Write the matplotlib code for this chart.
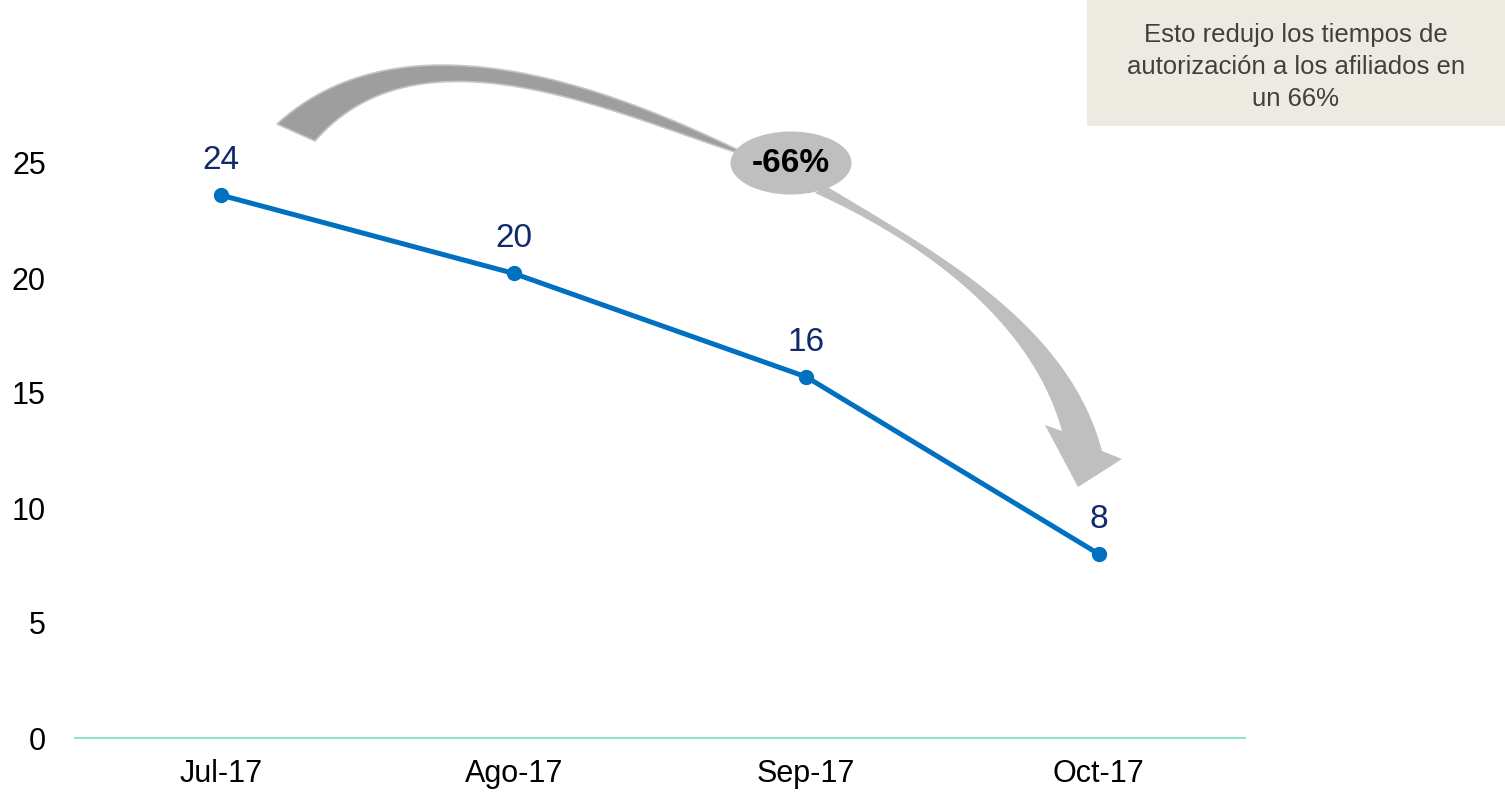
import matplotlib
matplotlib.use("Agg")
import numpy as np
import matplotlib.pyplot as plt
from matplotlib.patches import Polygon, Ellipse, Rectangle

plt.rcParams['font.family'] = ['Liberation Sans', 'DejaVu Sans']

categories = ["Jul-17", "Ago-17", "Sep-17", "Oct-17"]
values = [23.6, 20.2, 15.7, 8.0]
labels = ["24", "20", "16", "8"]
yticks = [0, 5, 10, 15, 20, 25]
box_lines = ["Esto redujo los tiempos de", "autorización a los afiliados en", "un 66%"]
badge = "-66%"

W, H = 1505, 793
fig = plt.figure(figsize=(W / 100, H / 100), dpi=100)
ax = fig.add_axes([75 / W, (H - 738) / H, 1170 / W, 644 / H])

x = list(range(len(categories)))
ax.plot(x, values, color="#0070c0", lw=3.6, marker="o", ms=10, zorder=3)
for xi, v, lab in zip(x, values, labels):
    ax.annotate(lab, (xi, v), xytext=(0, 25), textcoords="offset points",
                ha="center", va="center", fontsize=24, color="#102a6a")

ax.set_xlim(-0.5, len(categories) - 0.5)
ax.set_ylim(0, 28)
ax.set_xticks(x)
ax.set_xticklabels(categories, fontsize=22)
ax.set_yticks(yticks)
ax.set_yticklabels([str(t) for t in yticks], fontsize=22)
ax.tick_params(axis="x", length=0, pad=15)
ax.tick_params(axis="y", length=0, pad=21)
for s in ["top", "right", "left"]:
    ax.spines[s].set_visible(False)
ax.spines["bottom"].set_color("#8ee8cf")
ax.spines["bottom"].set_linewidth(1.5)


def bez_fit(pts, n=60):
    """Least-squares cubic Bezier through pixel points (endpoints fixed),
    returned as a dense polyline in figure fractions."""
    p = np.array(pts, dtype=float)
    d = np.r_[0, np.cumsum(np.hypot(*np.diff(p, axis=0).T))]
    t = d / d[-1]
    b0, b1, b2, b3 = (1 - t) ** 3, 3 * t * (1 - t) ** 2, 3 * t ** 2 * (1 - t), t ** 3
    A = np.column_stack([b1, b2])
    rhs = p - np.outer(b0, p[0]) - np.outer(b3, p[-1])
    c, *_ = np.linalg.lstsq(A, rhs, rcond=None)
    s = np.linspace(0, 1, n)[:, None]
    curve = ((1 - s) ** 3 * p[0] + 3 * s * (1 - s) ** 2 * c[0] +
             3 * s ** 2 * (1 - s) * c[1] + s ** 3 * p[-1])
    return np.column_stack([curve[:, 0] / W, 1 - curve[:, 1] / H])


# curved arrow, first (dark) part
outer1 = bez_fit([(277, 124), (300, 99), (345, 79), (417, 67), (510, 75),
                  (600, 93), (667, 115), (738, 150)])
inner1 = bez_fit([(315, 141), (326, 123), (343, 106), (393, 89), (450, 85),
                  (510, 88), (600, 105), (667, 128), (738, 153)])
poly1 = np.vstack([outer1, inner1[::-1]])
fig.patches.append(Polygon(poly1, closed=True, transform=fig.transFigure,
                           facecolor="#9e9e9e", edgecolor="#c4c4c4", lw=1.2, zorder=5))

# second (light) part with arrow head
left2 = bez_fit([(815, 193), (900, 237), (993, 318), (1035, 367), (1055, 400),
                 (1062, 431)])
right2 = bez_fit([(826, 186), (900, 228), (993, 300), (1062, 367), (1088, 405),
                  (1102, 451)])
head = np.array([(1045, 425), (1078, 487), (1122, 459)], dtype=float)
head = np.column_stack([head[:, 0] / W, 1 - head[:, 1] / H])
poly2 = np.vstack([left2, head, right2[::-1]])
fig.patches.append(Polygon(poly2, closed=True, transform=fig.transFigure,
                           facecolor="#bfbfbf", edgecolor="none", zorder=5))

cx, cy = 791 / W, 1 - 163 / H
fig.patches.append(Ellipse((cx, cy), 121 / W, 63 / H, transform=fig.transFigure,
                           facecolor="#bfbfbf", edgecolor="none", zorder=6))
fig.text(cx, cy, badge, ha="center", va="center", fontsize=24,
         fontweight="bold", color="black", zorder=7)

# text box
fig.patches.append(Rectangle((1087 / W, 1 - 126 / H), (W - 1087) / W, 126 / H,
                             transform=fig.transFigure, facecolor="#edebe1",
                             edgecolor="none", zorder=1))
for line, by in zip(box_lines, [42, 74, 106]):
    fig.text(1296 / W, 1 - by / H, line, ha="center", va="baseline",
             fontsize=18.5, color="#404040", zorder=2)

fig.savefig("out.png", dpi=100)
